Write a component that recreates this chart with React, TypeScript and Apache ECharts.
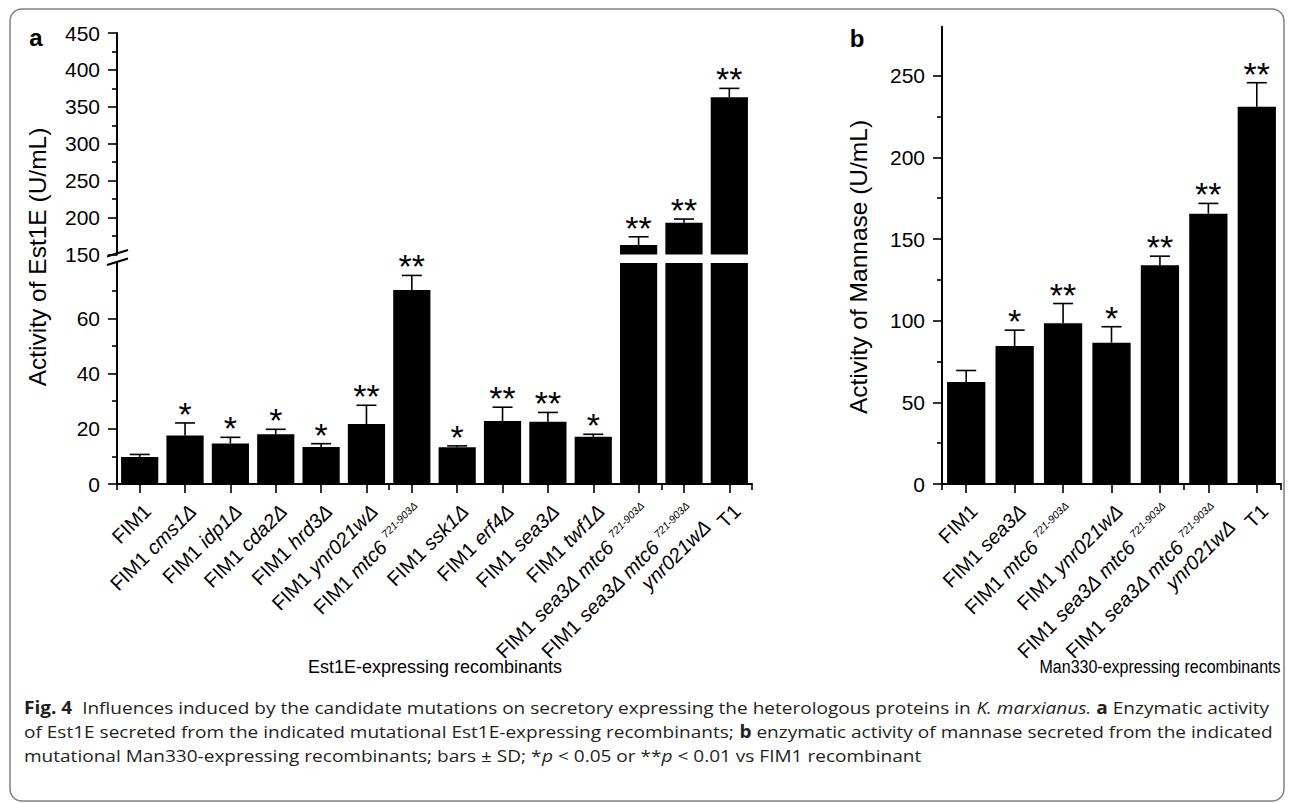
import React, { useEffect, useRef } from "react";
import * as echarts from "echarts";

// ---------- data ----------
const categoriesA = [
  "FIM1",
  "FIM1 {i|cms1Δ}",
  "FIM1 {i|idp1Δ}",
  "FIM1 {i|cda2Δ}",
  "FIM1 {i|hrd3Δ}",
  "FIM1 {i|ynr021wΔ}",
  "FIM1 {i|mtc6} {s|721-903Δ}",
  "FIM1 {i|ssk1Δ}",
  "FIM1 {i|erf4Δ}",
  "FIM1 {i|sea3Δ}",
  "FIM1 {i|twf1Δ}",
  "FIM1 {i|sea3Δ mtc6} {s|721-903Δ}",
  "FIM1 {i|sea3Δ mtc6} {s|721-903Δ}\n{i|ynr021wΔ}",
  "T1",
];
const valuesA = [9.8, 17.6, 14.7, 18.0, 13.4, 21.7, 70.2, 13.3, 22.8, 22.5, 17.1, 163, 193, 363];
const errorsA = [0.9, 4.5, 2.2, 1.8, 1.2, 6.8, 5.3, 0.5, 5.0, 3.4, 0.9, 11, 5, 12];
const starsA = ["", "*", "*", "*", "*", "**", "**", "*", "**", "**", "*", "**", "**", "**"];

const categoriesB = [
  "FIM1",
  "FIM1 {i|sea3Δ}",
  "FIM1 {i|mtc6} {s|721-903Δ}",
  "FIM1 {i|ynr021wΔ}",
  "FIM1 {i|sea3Δ mtc6} {s|721-903Δ}",
  "FIM1 {i|sea3Δ mtc6} {s|721-903Δ}\n{i|ynr021wΔ}",
  "T1",
];
const valuesB = [62.5, 84.5, 98.5, 86.5, 134, 165.5, 231];
const errorsB = [7, 9.7, 12, 9.8, 5.5, 6.3, 14.7];
const starsB = ["", "*", "**", "*", "**", "**", "**"];

const ticksAUpper = [150, 200, 250, 300, 350, 400, 450];
const minorAUpper = [175, 225, 275, 325, 375, 425];
const ticksALower = [0, 20, 40, 60];
const minorALower = [10, 30, 50, 70];
const ticksB = [0, 50, 100, 150, 200, 250];
const minorB = [25, 75, 125, 175, 225];

const captionLines = [
  "{b|Fig. 4}  Influences induced by the candidate mutations on secretory expressing the heterologous proteins in {i|K. marxianus.} {b|a} Enzymatic activity",
  "of Est1E secreted from the indicated mutational Est1E-expressing recombinants; {b|b} enzymatic activity of mannase secreted from the indicated",
  "mutational Man330-expressing recombinants; bars ± SD; *{i|p} < 0.05 or **{i|p} < 0.01 vs FIM1 recombinant",
];

// ---------- styles ----------
const FONT = "Liberation Sans, Arial, sans-serif";
const CAPFONT = "Open Sans, Noto Sans, sans-serif";
const BLACK = "#000";
const CAPCOLOR = "#231f20";
const CAPSIZE = 17;
const XLAB = 20;

const labelRich = {
  i: { fontStyle: "italic", fontSize: XLAB, fontFamily: FONT, color: BLACK, lineHeight: 22 },
  s: { fontStyle: "italic", fontSize: 10.5, fontFamily: FONT, color: BLACK, lineHeight: 22, verticalAlign: "top" },
};

function catAxis(gridIndex: number, data: string[], mode: "hidden" | "main" | "bound") {
  if (mode === "hidden") {
    return { gridIndex, type: "category", data, show: false };
  }
  if (mode === "main") {
    return {
      gridIndex,
      type: "category",
      data,
      position: "bottom",
      axisLine: { show: true, lineStyle: { color: BLACK, width: 2 } },
      axisTick: { show: true, alignWithLabel: true, length: 9, lineStyle: { color: BLACK, width: 1.6 } },
      axisLabel: {
        interval: 0,
        rotate: 45,
        margin: 16,
        fontSize: XLAB,
        fontFamily: FONT,
        color: BLACK,
        lineHeight: 22,
        verticalAlign: "top",
        rich: labelRich,
      },
      splitLine: { show: false },
    };
  }
  return {
    gridIndex,
    type: "category",
    data,
    position: "bottom",
    axisLine: { show: false },
    axisTick: { show: true, length: 6, lineStyle: { color: BLACK, width: 1.6 } },
    axisLabel: { show: false },
    splitLine: { show: false },
  };
}

function valAxis(gridIndex: number, min: number, max: number, ticks: number[], major: boolean) {
  return {
    gridIndex,
    type: "value",
    position: "left",
    min,
    max,
    axisLine: { show: major, lineStyle: { color: BLACK, width: 2 } },
    axisTick: {
      show: true,
      length: major ? 9 : 5,
      customValues: ticks,
      lineStyle: { color: BLACK, width: 1.6 },
    },
    axisLabel: major
      ? { show: true, customValues: ticks, margin: 17, fontSize: 21, fontFamily: FONT, color: BLACK }
      : { show: false },
    splitLine: { show: false },
  };
}

function errRender(stars: string[], ok: (v: number, e: number) => boolean) {
  return (params: any, api: any) => {
    const i = api.value(0);
    const v = api.value(1);
    const e = api.value(2);
    if (!ok(v, e)) return null;
    const base = api.coord([i, v]);
    const top = api.coord([i, v + e]);
    const cap = 10;
    return {
      type: "group",
      children: [
        { type: "line", shape: { x1: base[0], y1: base[1], x2: base[0], y2: top[1] }, style: { stroke: BLACK, lineWidth: 1.6 } },
        { type: "line", shape: { x1: base[0] - cap, y1: top[1], x2: base[0] + cap, y2: top[1] }, style: { stroke: BLACK, lineWidth: 1.6 } },
        {
          type: "text",
          x: base[0],
          y: top[1] - 9,
          style: { text: stars[params.dataIndex], fontSize: 34, fontFamily: FONT, fill: BLACK, align: "center", verticalAlign: "middle" },
        },
      ],
    };
  };
}

export default function App() {
  const ref = useRef<HTMLDivElement>(null);

  useEffect(() => {
    document.body.style.margin = "0";
    if (!ref.current) return;
    const chart = echarts.init(ref.current, null, { renderer: "svg" });

    const errA = valuesA.map((v, i) => [i, v, errorsA[i]]);
    const errB = valuesB.map((v, i) => [i, v, errorsB[i]]);

    const capRich = {
      b: { fontWeight: "bold", fontSize: CAPSIZE, fontFamily: CAPFONT, fill: CAPCOLOR },
      i: { fontStyle: "italic", fontSize: CAPSIZE, fontFamily: CAPFONT, fill: CAPCOLOR },
    };
    const captionGraphics = captionLines.map((t, k) => ({
      type: "text",
      x: 24,
      y: 707 + k * 24,
      scaleX: 1.12,
      style: {
        text: t,
        fontSize: CAPSIZE,
        fontFamily: CAPFONT,
        fill: CAPCOLOR,
        align: "left",
        verticalAlign: "middle",
        rich: capRich,
      },
    }));

    const option = {
      animation: false,
      backgroundColor: "#fff",
      grid: [
        { left: 117, top: 33, width: 635, height: 221.5 },
        { left: 117, top: 263, width: 635, height: 221 },
        { left: 942, top: 26.7, width: 339, height: 457.3 },
      ],
      xAxis: [
        catAxis(0, categoriesA, "hidden"),
        catAxis(1, categoriesA, "main"),
        catAxis(1, categoriesA, "bound"),
        catAxis(2, categoriesB, "main"),
        catAxis(2, categoriesB, "bound"),
      ],
      yAxis: [
        valAxis(0, 150, 450, ticksAUpper, true),
        valAxis(0, 150, 450, minorAUpper, false),
        valAxis(1, 0, 80, ticksALower, true),
        valAxis(1, 0, 80, minorALower, false),
        valAxis(2, 0, 280, ticksB, true),
        valAxis(2, 0, 280, minorB, false),
      ],
      series: [
        {
          type: "bar",
          xAxisIndex: 0,
          yAxisIndex: 0,
          data: valuesA.map((v) => (v > 150 ? v : "-")),
          barCategoryGap: "18%",
          itemStyle: { color: BLACK },
        },
        {
          type: "bar",
          xAxisIndex: 1,
          yAxisIndex: 2,
          data: valuesA,
          barCategoryGap: "18%",
          itemStyle: { color: BLACK },
        },
        {
          type: "bar",
          xAxisIndex: 3,
          yAxisIndex: 4,
          data: valuesB,
          barCategoryGap: "21%",
          itemStyle: { color: BLACK },
        },
        {
          type: "custom",
          xAxisIndex: 0,
          yAxisIndex: 0,
          data: errA,
          encode: { x: 0, y: 1 },
          renderItem: errRender(starsA, (v) => v > 150),
          z: 5,
        },
        {
          type: "custom",
          xAxisIndex: 1,
          yAxisIndex: 2,
          data: errA,
          encode: { x: 0, y: 1 },
          renderItem: errRender(starsA, (v, e) => v + e < 80),
          z: 5,
        },
        {
          type: "custom",
          xAxisIndex: 3,
          yAxisIndex: 4,
          data: errB,
          encode: { x: 0, y: 1 },
          renderItem: errRender(starsB, () => true),
          z: 5,
        },
      ],
      graphic: [
        {
          type: "rect",
          shape: { x: 10, y: 9, width: 1274, height: 792, r: 12 },
          style: { fill: "none", stroke: "#808080", lineWidth: 1.5 },
          silent: true,
        },
        { type: "text", x: 36, y: 37, style: { text: "a", fontSize: 24, fontWeight: "bold", fontFamily: FONT, fill: BLACK, align: "center", verticalAlign: "middle" } },
        { type: "text", x: 857, y: 38, style: { text: "b", fontSize: 24, fontWeight: "bold", fontFamily: FONT, fill: BLACK, align: "center", verticalAlign: "middle" } },
        { type: "text", x: 37, y: 257, rotation: Math.PI / 2, style: { text: "Activity of Est1E (U/mL)", fontSize: 24.5, fontFamily: FONT, fill: BLACK, align: "center", verticalAlign: "middle" } },
        { type: "text", x: 858, y: 267, rotation: Math.PI / 2, style: { text: "Activity of Mannase (U/mL)", fontSize: 24.5, fontFamily: FONT, fill: BLACK, align: "center", verticalAlign: "middle" } },
        { type: "text", x: 435, y: 667, style: { text: "Est1E-expressing recombinants", fontSize: 18, fontFamily: FONT, fill: BLACK, align: "center", verticalAlign: "middle" } },
        { type: "text", x: 1160, y: 667, scaleX: 0.89, style: { text: "Man330-expressing recombinants", fontSize: 18, fontFamily: FONT, fill: BLACK, align: "center", verticalAlign: "middle" } },
        { type: "line", shape: { x1: 107, y1: 256.5, x2: 128, y2: 250 }, style: { stroke: BLACK, lineWidth: 2 } },
        { type: "line", shape: { x1: 107, y1: 265, x2: 128, y2: 258.5 }, style: { stroke: BLACK, lineWidth: 2 } },
        ...captionGraphics,
      ],
    };

    chart.setOption(option as any);
    return () => chart.dispose();
  }, []);

  return <div ref={ref} style={{ width: 1293, height: 803 }} />;
}
